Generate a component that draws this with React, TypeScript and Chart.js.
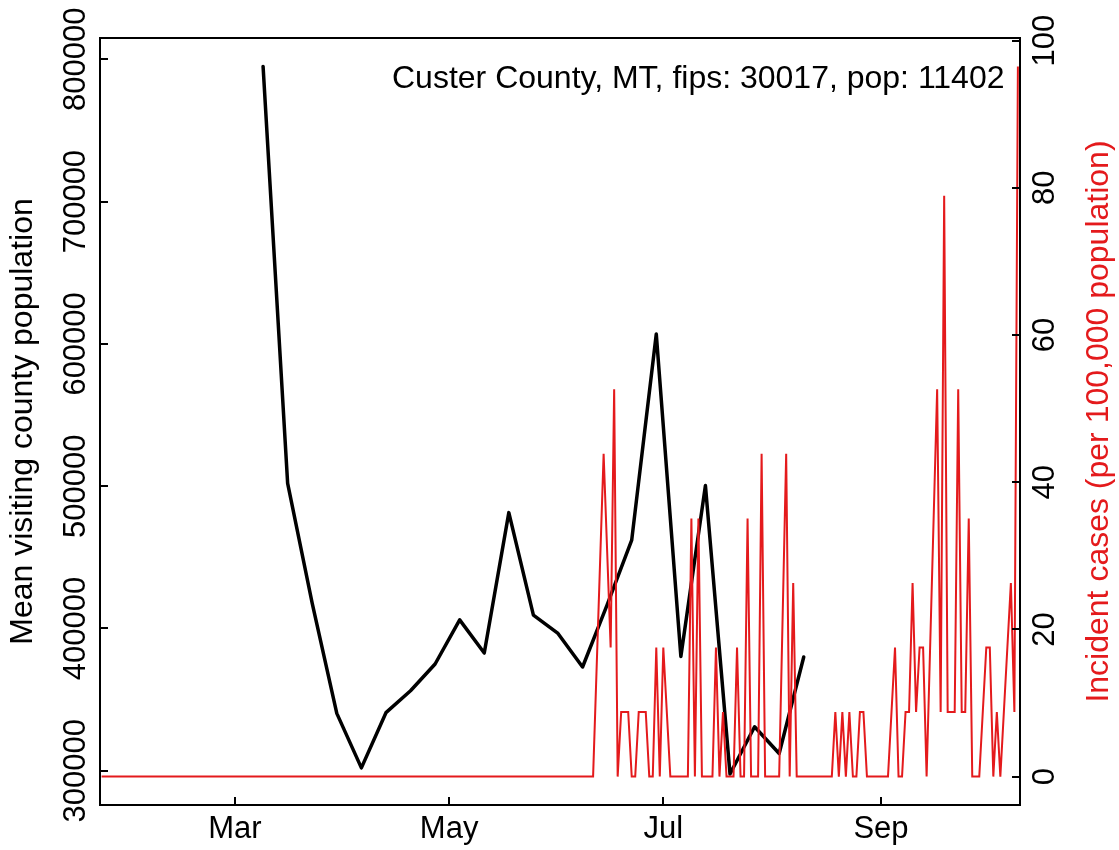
import React, { useEffect, useRef } from 'react';
import { Chart, registerables } from 'chart.js';

Chart.register(...registerables);

const FONT = "'Liberation Sans', Arial, Helvetica, sans-serif";
const FS = 31;
const FS_TITLE = 32;
const RED = 'rgb(228, 26, 28)';

// x axis: day index (day 0 = 22 Jan 2020)
const monthTickDays = [39, 100, 161, 223];
const monthTickLabels = ['Mar', 'May', 'Jul', 'Sep'];
const leftTicks = [300000, 400000, 500000, 600000, 700000, 800000];
const rightTicks = [0, 20, 40, 60, 80, 100];

const leftTitle = 'Mean visiting county population';
const rightTitle = 'Incident cases (per 100,000 population)';
const annotation = 'Custer County, MT, fips: 30017, pop: 11402';

// weekly mean visiting county population (black)
const visitDays = [47, 54, 61, 68, 75, 82, 89, 96, 103, 110, 117, 124, 131, 138, 145, 152, 159, 166, 173, 180, 187, 194, 201];
const visitPop = [795000, 502000, 417600, 340300, 302000, 340800, 356200, 375000, 406000, 382700, 481400, 409400, 396500, 372900, 416600, 462100, 606900, 380300, 500400, 297700, 330900, 312100, 379900];

// daily incident cases per 100,000 (red)
const caseDays = [
  1, 141, 144, 146, 147, 148, 149, 151, 152, 153, 154, 156, 157, 158, 159, 160, 161, 163,
  168, 169, 170, 171, 172, 175, 176, 177, 178, 179, 181, 182, 183, 184, 185, 186, 188, 189,
  190, 194, 196, 197, 198, 199, 209, 210, 211, 212, 213, 214, 215, 216, 217, 218, 219, 225,
  227, 228, 229, 230, 231, 232, 233, 234, 235, 236, 239, 240, 241, 242, 244, 245, 246, 247,
  248, 249, 251, 253, 254, 255, 256, 257, 260, 261, 262,
];
const caseRates = [
  0, 0, 43.85, 17.54, 52.62, 0, 8.77, 8.77, 0, 0, 8.77, 8.77, 0, 0, 17.54, 0, 17.54, 0,
  0, 35.08, 0, 35.08, 0, 0, 17.54, 0, 8.77, 0, 0, 17.54, 0, 0, 35.08, 0, 0, 43.85,
  0, 0, 43.85, 0, 26.31, 0, 0, 8.77, 0, 8.77, 0, 8.77, 0, 0, 8.77, 8.77, 0, 0,
  17.54, 0, 0, 8.77, 8.77, 26.31, 8.77, 17.54, 17.54, 0, 52.62, 8.77, 78.93, 8.77, 8.77, 52.62, 8.77, 8.77,
  35.08, 0, 0, 17.54, 17.54, 0, 8.77, 0, 26.31, 8.77, 96.47,
];

const framePlugin = {
  id: 'frameAndText',
  afterDraw(chart: any) {
    const { ctx, chartArea: a, scales } = chart;
    ctx.save();
    ctx.strokeStyle = '#000';
    ctx.lineWidth = 2;
    ctx.strokeRect(a.left, a.top, a.right - a.left, a.bottom - a.top);
    ctx.beginPath();
    scales.x.ticks.forEach((t: any) => {
      const p = Math.round(scales.x.getPixelForValue(t.value));
      ctx.moveTo(p, a.bottom);
      ctx.lineTo(p, a.bottom - 8);
    });
    scales.y.ticks.forEach((t: any) => {
      const p = Math.round(scales.y.getPixelForValue(t.value));
      ctx.moveTo(a.left, p);
      ctx.lineTo(a.left + 8, p);
    });
    scales.y1.ticks.forEach((t: any) => {
      const p = Math.round(scales.y1.getPixelForValue(t.value));
      ctx.moveTo(a.right, p);
      ctx.lineTo(a.right - 8, p);
    });
    ctx.stroke();

    ctx.fillStyle = '#000';
    ctx.font = `${FS_TITLE}px ${FONT}`;
    ctx.textAlign = 'right';
    ctx.textBaseline = 'alphabetic';
    ctx.fillText(annotation, a.right - 15.5, a.top + 50);

    ctx.translate(1099, (a.top + a.bottom) / 2);
    ctx.rotate(-Math.PI / 2);
    ctx.fillStyle = RED;
    ctx.textAlign = 'center';
    ctx.textBaseline = 'middle';
    ctx.fillText(rightTitle, 0, 0);
    ctx.restore();
  },
};

export default function App() {
  const ref = useRef<HTMLCanvasElement | null>(null);

  useEffect(() => {
    if (!ref.current) return;
    document.body.style.margin = '0';
    Chart.defaults.font.family = FONT;
    const chart = new Chart(ref.current, {
      type: 'line',
      data: {
        datasets: [
          {
            label: 'Incident cases',
            data: caseDays.map((d, i) => ({ x: d, y: caseRates[i] })),
            borderColor: RED,
            borderWidth: 2,
            pointRadius: 0,
            tension: 0,
            xAxisID: 'x',
            yAxisID: 'y1',
            borderJoinStyle: 'miter',
          },
          {
            label: 'Mean visiting county population',
            data: visitDays.map((d, i) => ({ x: d, y: visitPop[i] })),
            borderColor: '#000',
            borderWidth: 3.5,
            pointRadius: 0,
            tension: 0,
            xAxisID: 'x',
            yAxisID: 'y',
            borderJoinStyle: 'round',
            borderCapStyle: 'round',
          },
        ],
      },
      options: {
        responsive: false,
        devicePixelRatio: 1,
        animation: false,
        layout: { padding: { top: 38, left: 0, right: 0, bottom: 0 } },
        plugins: { legend: { display: false }, tooltip: { enabled: false }, title: { display: false } },
        scales: {
          x: {
            type: 'linear',
            position: 'bottom',
            min: 0.55,
            max: 262.6,
            grid: { display: false, drawTicks: false },
            border: { display: false },
            afterBuildTicks: (s: any) => { s.ticks = monthTickDays.map((v) => ({ value: v })); },
            afterFit: (s: any) => { s.height = 45; },
            ticks: {
              padding: 6,
              color: '#000',
              font: { size: FS, family: FONT },
              maxRotation: 0,
              minRotation: 0,
              autoSkip: false,
              callback: (_v: any, i: number) => monthTickLabels[i],
            },
          },
          y: {
            type: 'linear',
            position: 'left',
            min: 275900,
            max: 815000,
            grid: { display: false, drawTicks: false },
            border: { display: false },
            afterBuildTicks: (s: any) => { s.ticks = leftTicks.map((v) => ({ value: v })); },
            afterFit: (s: any) => { s.width = 100; },
            title: { display: true, text: leftTitle, color: '#000', font: { size: FS_TITLE, family: FONT }, padding: { top: 4, bottom: 0 } },
            ticks: {
              padding: -27.7,
              crossAlign: 'center',
              minRotation: 90,
              maxRotation: 90,
              color: '#000',
              font: { size: FS, family: FONT },
              callback: (v: any) => String(v),
            },
          },
          y1: {
            type: 'linear',
            position: 'right',
            min: -3.86,
            max: 100.35,
            grid: { display: false, drawTicks: false },
            border: { display: false },
            afterBuildTicks: (s: any) => { s.ticks = rightTicks.map((v) => ({ value: v })); },
            afterFit: (s: any) => { s.width = 99; },
            ticks: {
              padding: 0,
              crossAlign: 'center',
              minRotation: 90,
              maxRotation: 90,
              color: '#000',
              font: { size: FS, family: FONT },
              callback: (v: any) => String(v),
            },
          },
        },
      } as any,
      plugins: [framePlugin],
    });
    return () => chart.destroy();
  }, []);

  return (
    <div style={{ position: 'absolute', left: 0, top: 0, width: 1119, height: 850, background: '#fff' }}>
      <canvas ref={ref} width={1119} height={850} style={{ display: 'block', width: 1119, height: 850 }} />
    </div>
  );
}
